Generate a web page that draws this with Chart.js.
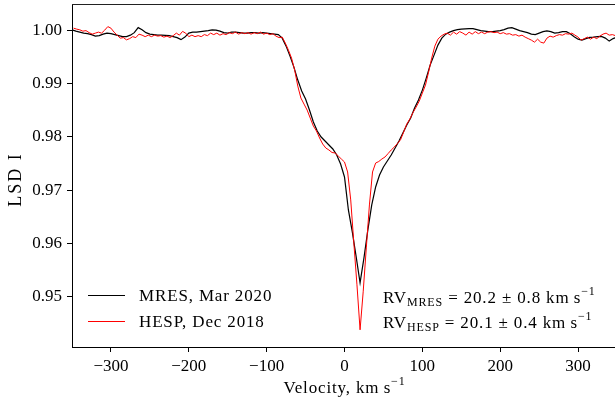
<!DOCTYPE html>
<html>
<head>
<meta charset="utf-8">
<script src="https://cdn.jsdelivr.net/npm/chart.js@4"></script>
<style>
  html, body { margin: 0; padding: 0; background: #fff; overflow: hidden; }
  #wrap { width: 618px; height: 403px; }
</style>
</head>
<body>
<div id="wrap"><canvas id="lsdChart" width="618" height="403"></canvas></div>
<script>
// MRES profile, sampled every 5 km/s from -350
const mresStart = -350, mresStep = 5;
const mresFlux = [
  1.00006, 0.99981, 0.99963, 0.99944, 0.99934, 0.99916, 0.99888, 0.99897, 0.99925, 0.99944,
  0.99934, 0.99916, 0.99897, 0.99878, 0.99878, 0.99906, 0.99953, 1.00047, 1.00009, 0.99953,
  0.99925, 0.99916, 0.99906, 0.99906, 0.99901, 0.99897, 0.99878, 0.99860, 0.99822, 0.99869,
  0.99944, 0.99963, 0.99963, 0.99972, 0.99981, 0.99991, 1.00006, 1.00000, 0.99981, 0.99953,
  0.99944, 0.99963, 0.99963, 0.99953, 0.99944, 0.99944, 0.99953, 0.99953, 0.99944, 0.99953,
  0.99944, 0.99934, 0.99925, 0.99916, 0.99850, 0.99700, 0.99513, 0.99307, 0.99064, 0.98858,
  0.98708, 0.98502, 0.98277, 0.98109, 0.97996, 0.97921, 0.97846, 0.97772, 0.97659, 0.97491,
  0.97247, 0.96629, 0.96217, 0.95749, 0.95262, 0.95730, 0.96255, 0.96723, 0.97060, 0.97285,
  0.97434, 0.97547, 0.97659, 0.97790, 0.97921, 0.98071, 0.98221, 0.98352, 0.98539, 0.98689,
  0.98876, 0.99101, 0.99345, 0.99532, 0.99719, 0.99850, 0.99925, 0.99963, 0.99991, 1.00009,
  1.00019, 1.00024, 1.00028, 1.00028, 1.00009, 0.99991, 0.99981, 0.99972, 0.99972, 0.99981,
  0.99991, 1.00009, 1.00037, 1.00047, 1.00019, 0.99991, 0.99972, 0.99953, 0.99925, 0.99916,
  0.99944, 0.99972, 0.99987, 0.99972, 0.99944, 0.99953, 0.99972, 0.99972, 0.99934, 0.99878,
  0.99831, 0.99813, 0.99841, 0.99863, 0.99869, 0.99878, 0.99882, 0.99850, 0.99794, 0.99841,
  0.99869
];

// HESP profile, sampled every 4 km/s from -348
const hespStart = -348, hespStep = 4;
const hespFlux = [
  1.00037, 1.00019, 1.00006, 0.99981, 0.99991, 0.99953, 0.99925, 0.99944, 0.99963, 0.99944,
  1.00000, 1.00066, 1.00037, 0.99963, 0.99906, 0.99850, 0.99860, 0.99818, 0.99841, 0.99878,
  0.99860, 0.99925, 0.99906, 0.99878, 0.99906, 0.99878, 0.99906, 0.99888, 0.99897, 0.99869,
  0.99888, 0.99860, 0.99897, 0.99944, 0.99906, 0.99976, 0.99944, 0.99878, 0.99906, 0.99878,
  0.99897, 0.99878, 0.99916, 0.99897, 0.99944, 0.99916, 0.99944, 0.99906, 0.99934, 0.99916,
  0.99953, 0.99934, 0.99963, 0.99925, 0.99953, 0.99934, 0.99953, 0.99925, 0.99953, 0.99934,
  0.99963, 0.99925, 0.99944, 0.99916, 0.99934, 0.99888, 0.99860, 0.99869, 0.99757, 0.99625,
  0.99476, 0.99251, 0.98951, 0.98727, 0.98614, 0.98502, 0.98352, 0.98202, 0.98109, 0.97978,
  0.97865, 0.97790, 0.97753, 0.97706, 0.97697, 0.97640, 0.97584, 0.97528, 0.97341, 0.96817,
  0.96011, 0.95225, 0.94382, 0.95094, 0.95918, 0.96723, 0.97341, 0.97509, 0.97537, 0.97584,
  0.97622, 0.97687, 0.97753, 0.97809, 0.97875, 0.97946, 0.98090, 0.98240, 0.98333, 0.98455,
  0.98558, 0.98670, 0.98820, 0.98970, 0.99213, 0.99476, 0.99700, 0.99831, 0.99888, 0.99925,
  0.99944, 0.99906, 0.99963, 0.99925, 0.99972, 0.99944, 0.99906, 0.99963, 0.99925, 0.99972,
  0.99934, 0.99963, 0.99934, 0.99963, 0.99972, 0.99953, 0.99963, 0.99934, 0.99953, 0.99925,
  0.99934, 0.99906, 0.99916, 0.99888, 0.99906, 0.99869, 0.99841, 0.99813, 0.99775, 0.99831,
  0.99775, 0.99757, 0.99850, 0.99888, 0.99869, 0.99897, 0.99916, 0.99906, 0.99934, 0.99925,
  0.99944, 0.99906, 0.99869, 0.99813, 0.99841, 0.99869, 0.99831, 0.99869, 0.99841, 0.99888,
  0.99925, 0.99944, 0.99906, 0.99916, 0.99897
];

const xTicks = [-300, -200, -100, 0, 100, 200, 300];
const yTicks = [0.95, 0.96, 0.97, 0.98, 0.99, 1.00];
const seriesNames = ['MRES, Mar 2020', 'HESP, Dec 2018'];
const seriesColors = ['#000000', '#ff0000'];
const rvInfo = [['MRES', '20.2', '0.8'], ['HESP', '20.1', '0.4']];

const FONT = '"Liberation Serif", "Times New Roman", serif';
const FS = 17;

function toPoints(start, step, flux) {
  return flux.map((f, i) => ({ x: start + i * step, y: f }));
}

function minus(v) {
  return v < 0 ? '\u2212' + Math.abs(v) : String(v);
}

// draw a run of text pieces [text, size, dy], returns end x
function drawRun(ctx, x, y, pieces, measureOnly) {
  pieces.forEach(p => {
    ctx.font = p[1] + 'px ' + FONT;
    if (!measureOnly) ctx.fillText(p[0], x, y + p[2]);
    x += ctx.measureText(p[0]).width;
  });
  return x;
}

const extras = {
  id: 'extras',
  afterDraw(chart) {
    const ctx = chart.ctx;
    const a = chart.chartArea;
    ctx.save();
    // top spine
    ctx.strokeStyle = '#222';
    ctx.lineWidth = 1.2;
    ctx.beginPath();
    ctx.moveTo(a.left, a.top + 0.5);
    ctx.lineTo(a.right, a.top + 0.5);
    ctx.stroke();

    ctx.fillStyle = '#000';
    ctx.textBaseline = 'alphabetic';
    ctx.textAlign = 'left';
    ctx.letterSpacing = '0.85px';

    // legend
    const legY = [295, 321];
    seriesNames.forEach((name, i) => {
      ctx.strokeStyle = seriesColors[i];
      ctx.lineWidth = 1.2;
      ctx.beginPath();
      ctx.moveTo(88, legY[i] + 0.5);
      ctx.lineTo(125, legY[i] + 0.5);
      ctx.stroke();
      ctx.font = FS + 'px ' + FONT;
      ctx.fillText(name, 139, legY[i] + 6);
    });

    // RV annotations
    const rvY = [303, 328];
    rvInfo.forEach((r, i) => {
      drawRun(ctx, 383, rvY[i], [
        ['RV', FS, 0],
        [r[0], 12, 3],
        [' = ' + r[1] + ' \u00b1 ' + r[2] + ' km\u2009s', FS, 0],
        ['\u22121', 12, -8]
      ]);
    });

    // x title
    const xt = [['Velocity, km\u2009s', FS, 0], ['\u22121', 12, -8]];
    const w = drawRun(ctx, 0, 0, xt, true);
    drawRun(ctx, (a.left + a.right) / 2 - w / 2, 393, xt);

    // y title
    ctx.translate(21, (a.top + a.bottom) / 2 + 4);
    ctx.rotate(-Math.PI / 2);
    ctx.textAlign = 'center';
    ctx.letterSpacing = '2px';
    ctx.font = '18px ' + FONT;
    ctx.fillText('LSD I', 0, 0);
    ctx.restore();
  }
};

new Chart(document.getElementById('lsdChart'), {
  type: 'line',
  data: {
    datasets: [{
      label: seriesNames[0],
      data: toPoints(mresStart, mresStep, mresFlux),
      borderColor: seriesColors[0],
      borderWidth: 1.2,
      pointRadius: 0,
      tension: 0,
      order: 2
    }, {
      label: seriesNames[1],
      data: toPoints(hespStart, hespStep, hespFlux),
      borderColor: seriesColors[1],
      borderWidth: 1,
      pointRadius: 0,
      tension: 0,
      order: 1
    }]
  },
  options: {
    responsive: false,
    animation: false,
    layout: { padding: { top: 4, right: 1, left: 0, bottom: 0 } },
    plugins: { legend: { display: false }, tooltip: { enabled: false } },
    scales: {
      x: {
        type: 'linear',
        min: -350,
        max: 350,
        afterBuildTicks: s => { s.ticks = xTicks.map(v => ({ value: v })); },
        afterFit: s => { s.height = 56; s.paddingLeft = 0; s.paddingRight = 0; },
        grid: { drawOnChartArea: false, tickLength: 5, tickColor: '#000', tickWidth: 1 },
        border: { color: '#000', width: 1 },
        ticks: {
          color: '#000',
          font: { family: FONT, size: FS },
          padding: 4,
          maxRotation: 0,
          autoSkip: false,
          callback: v => minus(v)
        }
      },
      y: {
        min: 0.9406,
        max: 1.0049,
        afterBuildTicks: s => { s.ticks = yTicks.map(v => ({ value: v })); },
        afterFit: s => { s.width = 72; s.paddingTop = 0; s.paddingBottom = 0; },
        grid: { drawOnChartArea: false, tickLength: 5, tickColor: '#000', tickWidth: 1 },
        border: { color: '#000', width: 1 },
        ticks: {
          color: '#000',
          font: { family: FONT, size: FS },
          padding: 5,
          callback: v => v.toFixed(2)
        }
      }
    }
  },
  plugins: [extras]
});
</script>
</body>
</html>
